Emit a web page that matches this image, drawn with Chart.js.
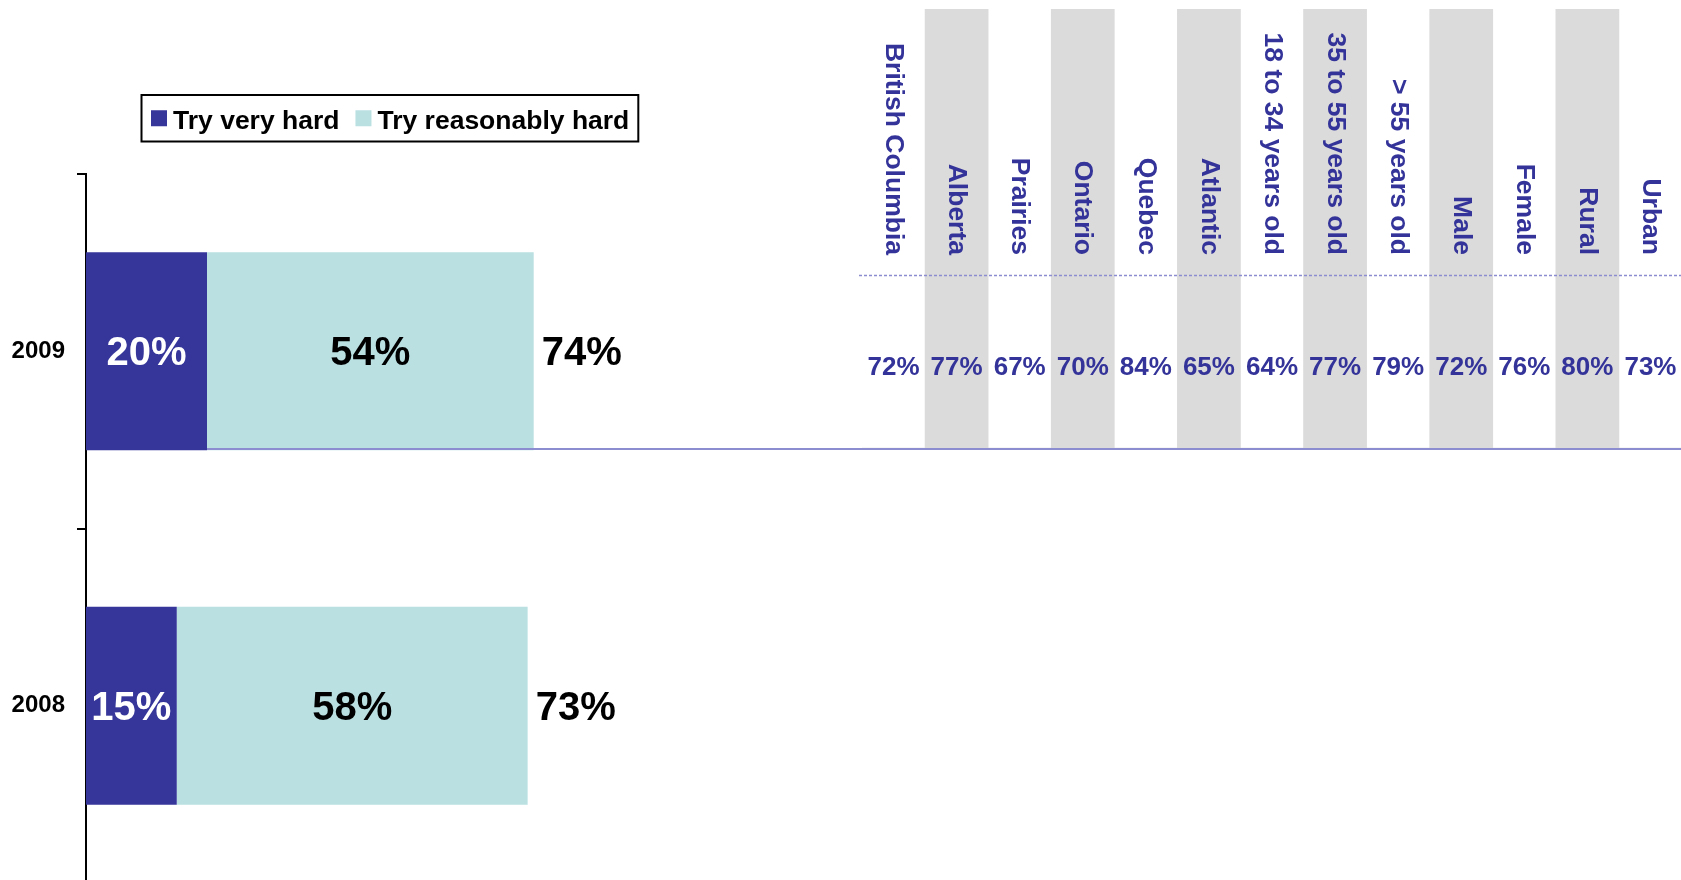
<!DOCTYPE html>
<html><head><meta charset="utf-8">
<script src="https://cdn.jsdelivr.net/npm/chart.js@4/dist/chart.umd.min.js"></script>
<style>
html,body{margin:0;padding:0;background:#fff;overflow:hidden;}
#wrap{position:relative;width:1681px;height:880px;overflow:hidden;background:#fff;}
canvas{position:absolute;left:0;top:0;}
</style></head><body>
<div id="wrap">
<canvas id="table" width="1690" height="890"></canvas>
<canvas id="bars" width="1681" height="890"></canvas>
</div>
<script>
// ---- data ----
const years = ['2009', '2008'];
const tryVeryHard = [20, 15];
const tryReasonablyHard = [54, 58];
const totals = [74, 73];
const seriesNames = ['Try very hard', 'Try reasonably hard'];
const segments = ['British Columbia', 'Alberta', 'Prairies', 'Ontario', 'Quebec', 'Atlantic',
  '18 to 34 years old', '35 to 55 years old', '> 55 years old', 'Male', 'Female', 'Rural', 'Urban'];
const segmentValues = [72, 77, 67, 70, 84, 65, 64, 77, 79, 72, 76, 80, 73];
const columnShade = [0, 1, 0, 1, 0, 1, 0, 1, 0, 1, 0, 1, 0];

// ---- styles ----
const FONT = "'Liberation Sans', Arial, Helvetica, sans-serif";
const DARK = '#35359A', LIGHT = '#BAE0E2', BLUE_TEXT = '#333399', GRAY = '#DBDBDB', RULE = '#8B8DD0';

const barLabels = {
  id: 'barLabels',
  beforeDatasetDraw(chart, args) {
    if (args.index !== 0) return;
    const ctx = chart.ctx;
    ctx.save();
    ctx.strokeStyle = RULE; ctx.lineWidth = 2;
    ctx.beginPath(); ctx.moveTo(chart.chartArea.left, 449); ctx.lineTo(chart.width, 449); ctx.stroke();
    ctx.restore();
  },
  afterDatasetsDraw(chart) {
    const ctx = chart.ctx;
    const m0 = chart.getDatasetMeta(0), m1 = chart.getDatasetMeta(1);
    ctx.save();
    ctx.font = `bold 40px ${FONT}`;
    ctx.textBaseline = 'middle';
    years.forEach((yr, i) => {
      const b0 = m0.data[i], b1 = m1.data[i];
      const ty = b0.y + 3;
      ctx.textAlign = 'center';
      ctx.fillStyle = '#fff';
      ctx.fillText(tryVeryHard[i] + '%', (b0.base + b0.x) / 2, ty);
      ctx.fillStyle = '#000';
      ctx.fillText(tryReasonablyHard[i] + '%', (b1.base + b1.x) / 2, ty);
      ctx.textAlign = 'left';
      ctx.fillText(totals[i] + '%', b1.x + 8, ty);
    });
    // legend box
    const boxL = 141.5, boxT = 95, boxH = 46.5, midY = boxT + boxH / 2;
    ctx.font = `bold 26.5px ${FONT}`;
    ctx.textAlign = 'left';
    let x = boxL + 9.5;
    chart.data.datasets.forEach((ds, i) => {
      ctx.fillStyle = ds.backgroundColor;
      ctx.fillRect(x, midY - 8, 16, 16);
      x += 16 + 6;
      ctx.fillStyle = '#000';
      ctx.fillText(ds.label, x, midY + 3);
      x += ctx.measureText(ds.label).width + (i === 0 ? 16 : 9);
    });
    ctx.strokeStyle = '#000'; ctx.lineWidth = 2;
    ctx.strokeRect(boxL, boxT, x - boxL, boxH);
    ctx.restore();
  }
};

new Chart(document.getElementById('bars'), {
  type: 'bar',
  data: {
    labels: years,
    datasets: [
      { label: seriesNames[0], data: tryVeryHard, backgroundColor: DARK, borderWidth: 0 },
      { label: seriesNames[1], data: tryReasonablyHard, backgroundColor: LIGHT, borderWidth: 0 }
    ]
  },
  options: {
    indexAxis: 'y', responsive: false, animation: false,
    layout: { padding: { top: 174, bottom: 7, left: 0, right: 990 } },
    datasets: { bar: { barPercentage: 0.558, categoryPercentage: 1 } },
    scales: {
      x: { stacked: true, min: 0, max: 100, display: false },
      y: {
        stacked: true,
        afterFit: s => { s.width = 86; s.paddingTop = 0; s.paddingBottom = 0; },
        grid: { drawOnChartArea: false, tickLength: 9, color: '#000', lineWidth: 2 },
        border: { display: true, color: '#000', width: 2 },
        ticks: { color: '#000', font: { family: FONT, size: 24, weight: 'bold' }, padding: 12 }
      }
    },
    plugins: { legend: { display: false }, tooltip: { enabled: false } }
  },
  plugins: [barLabels]
});

const tableText = {
  id: 'tableText',
  afterDatasetsDraw(chart) {
    const ctx = chart.ctx, xs = chart.scales.x, area = chart.chartArea;
    ctx.save();
    ctx.strokeStyle = RULE; ctx.lineWidth = 1.5; ctx.setLineDash([3, 2]);
    ctx.beginPath(); ctx.moveTo(area.left - 3, 275.5); ctx.lineTo(chart.width, 275.5); ctx.stroke();
    ctx.setLineDash([]);
    ctx.fillStyle = BLUE_TEXT;
    segments.forEach((s, i) => {
      const x = xs.getPixelForValue(i);
      ctx.save();
      ctx.font = `bold 26.5px ${FONT}`;
      ctx.translate(x, 255);
      ctx.rotate(Math.PI / 2);
      ctx.textAlign = 'right'; ctx.textBaseline = 'middle';
      ctx.fillText(s, 0, 0);
      ctx.restore();
      ctx.font = `bold 26px ${FONT}`;
      ctx.textAlign = 'center'; ctx.textBaseline = 'middle';
      ctx.fillText(segmentValues[i] + '%', x, 368);
    });
    ctx.restore();
  }
};

new Chart(document.getElementById('table'), {
  type: 'bar',
  data: {
    labels: segments,
    datasets: [{ label: 'shade', data: columnShade, backgroundColor: GRAY, borderWidth: 0,
      barPercentage: 1, categoryPercentage: 1 }]
  },
  options: {
    responsive: false, animation: false,
    layout: { padding: { left: 862, right: 8, top: 9, bottom: 442 } },
    scales: {
      x: { display: false },
      y: { display: false, min: 0, max: 1 }
    },
    plugins: { legend: { display: false }, tooltip: { enabled: false } }
  },
  plugins: [tableText]
});
</script>
</body></html>
